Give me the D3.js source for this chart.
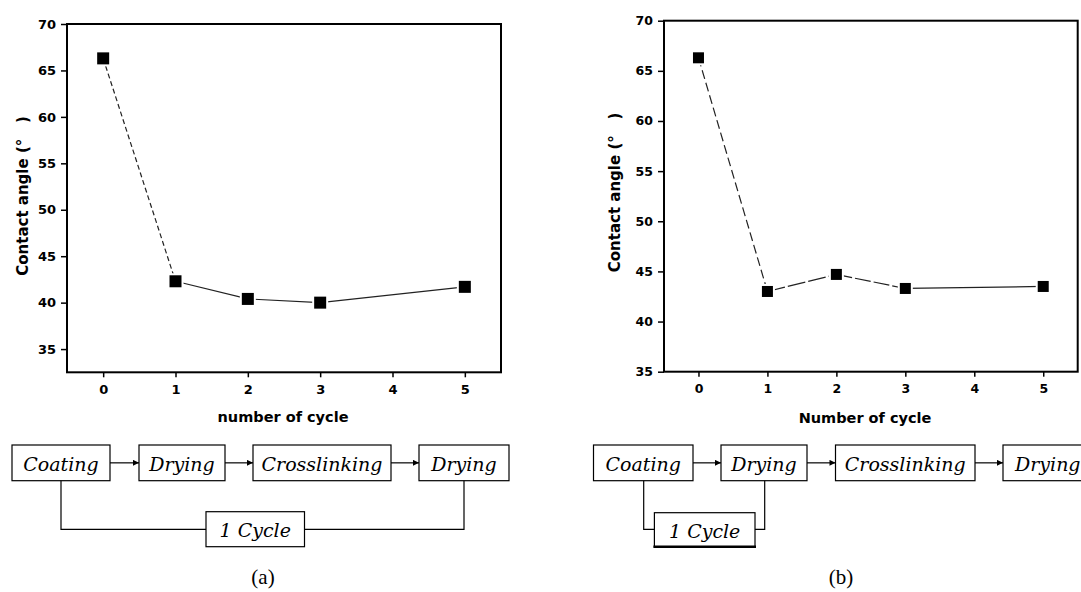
<!DOCTYPE html>
<html>
<head>
<meta charset="utf-8">
<script src="https://cdn.jsdelivr.net/npm/d3@7"></script>
<style>
  html, body { margin: 0; padding: 0; background: #fff; }
  svg { display: block; }
</style>
</head>
<body>
<svg id="chart"></svg>
<script>
// data
var cycles = [0, 1, 2, 3, 5];
var angleA = [66.3, 42.3, 40.4, 40.0, 41.7];
var angleB = [66.3, 43.0, 44.7, 43.3, 43.5];
var xTickValues = [0, 1, 2, 3, 4, 5];
var yTickValues = [35, 40, 45, 50, 55, 60, 65, 70];
var steps = ["Coating", "Drying", "Crosslinking", "Drying"];
var cycleLabel = "1 Cycle";
var yLabel = "Contact angle (\u00b0\u00a0\u00a0\u00a0)";

var W = 1081, H = 592;
var svg = d3.select("#chart").attr("width", W).attr("height", H);
svg.append("rect").attr("width", W).attr("height", H).attr("fill", "#fff");

var panels = [
  { values: angleA, left: 67, right: 501, top: 24, bottom: 372.3, yMin: 32.5,
    tickFont: 13, xLabel: "number of cycle", xLabelPos: [283, 421.5], yLabelPos: [23, 196],
    marker: 12, dashes: ["5,3", null, null, null] },
  { values: angleB, left: 664, right: 1077.7, top: 20.7, bottom: 371.7, yMin: 35,
    tickFont: 12.5, xLabel: "Number of cycle", xLabelPos: [865, 423], yLabelPos: [615, 192.5],
    marker: 11, dashes: ["9,4", "18,3", "16,3", null] }
];

panels.forEach(function(p) {
  var x = d3.scaleLinear([-0.5, 5.5], [p.left, p.right]);
  var y = d3.scaleLinear([p.yMin, 70], [p.bottom, p.top]);
  var g = svg.append("g");

  // y axis
  g.append("g")
      .attr("transform", "translate(" + p.left + ",0)")
      .call(d3.axisLeft(y).tickValues(yTickValues).tickSize(6).tickPadding(5).tickSizeOuter(0))
      .call(function(a) { a.select(".domain").remove(); })
      .call(function(a) { a.selectAll(".tick line").attr("stroke-width", 1.5); })
      .call(function(a) { a.selectAll("text")
          .attr("font-family", "DejaVu Sans").attr("font-weight", "bold").attr("font-size", p.tickFont); });

  // x axis
  g.append("g")
      .attr("transform", "translate(0," + p.bottom + ")")
      .call(d3.axisBottom(x).tickValues(xTickValues).tickFormat(d3.format("d"))
          .tickSize(5).tickPadding(7).tickSizeOuter(0))
      .call(function(a) { a.select(".domain").remove(); })
      .call(function(a) { a.selectAll(".tick line").attr("stroke-width", 1.5); })
      .call(function(a) { a.selectAll("text")
          .attr("font-family", "DejaVu Sans").attr("font-weight", "bold").attr("font-size", p.tickFont); });

  // frame
  g.append("rect")
      .attr("x", p.left).attr("y", p.top)
      .attr("width", p.right - p.left).attr("height", p.bottom - p.top)
      .attr("fill", "none").attr("stroke", "#000").attr("stroke-width", 2);

  // line segments, some dashed
  var line = d3.line().x(function(d) { return x(d[0]); }).y(function(d) { return y(d[1]); });
  for (var i = 0; i < cycles.length - 1; i++) {
    g.append("path")
        .attr("d", line([[cycles[i], p.values[i]], [cycles[i + 1], p.values[i + 1]]]))
        .attr("fill", "none").attr("stroke", "#222").attr("stroke-width", 1.2)
        .attr("stroke-dasharray", p.dashes[i]);
  }

  // square markers with a white halo
  var pts = cycles.map(function(c, i) { return [c, p.values[i]]; });
  g.selectAll(".halo").data(pts).join("rect")
      .attr("x", function(d) { return x(d[0]) - p.marker / 2 - 2; })
      .attr("y", function(d) { return y(d[1]) - p.marker / 2 - 2; })
      .attr("width", p.marker + 4).attr("height", p.marker + 4).attr("fill", "#fff");
  g.selectAll(".pt").data(pts).join("rect")
      .attr("x", function(d) { return x(d[0]) - p.marker / 2; })
      .attr("y", function(d) { return y(d[1]) - p.marker / 2; })
      .attr("width", p.marker).attr("height", p.marker).attr("fill", "#000");

  // axis titles
  g.append("text")
      .attr("x", p.xLabelPos[0]).attr("y", p.xLabelPos[1])
      .attr("text-anchor", "middle")
      .attr("font-family", "DejaVu Sans").attr("font-weight", "bold").attr("font-size", 14.5)
      .text(p.xLabel);
  g.append("text")
      .attr("transform", "translate(" + p.yLabelPos[0] + "," + p.yLabelPos[1] + ") rotate(-90)")
      .attr("text-anchor", "middle").attr("dominant-baseline", "central")
      .attr("font-family", "DejaVu Sans").attr("font-weight", "bold").attr("font-size", 15)
      .text(yLabel);
});

// ---- process diagrams under the charts ----
svg.append("defs").append("marker")
    .attr("id", "arrow").attr("viewBox", "0 0 10 10")
    .attr("refX", 10).attr("refY", 5)
    .attr("markerWidth", 7).attr("markerHeight", 6)
    .attr("markerUnits", "userSpaceOnUse").attr("orient", "auto")
  .append("path").attr("d", "M0,0L10,5L0,10Z").attr("fill", "#000");

var flows = [
  { boxes: [[12, 110], [139, 225], [253, 391], [419, 509]],
    cycleBox: [206, 304.5, 511.7, 546.7], linkX: [61, 464], linkY: 529.3,
    caption: "(a)", captionX: 263, thickBottom: false },
  { boxes: [[593.5, 693], [721, 807], [835.5, 975], [1003, 1100]],
    cycleBox: [654.4, 755, 512.7, 546.7], linkX: [643.7, 764.7], linkY: 529.3,
    caption: "(b)", captionX: 841, thickBottom: true }
];
var boxTop = 445, boxBottom = 480.7;

flows.forEach(function(f) {
  var g = svg.append("g");
  var midY = (boxTop + boxBottom) / 2;

  f.boxes.forEach(function(b, i) {
    var clipped = b[1] > W;
    g.append("rect")
        .attr("x", b[0]).attr("y", boxTop)
        .attr("width", b[1] - b[0]).attr("height", boxBottom - boxTop)
        .attr("fill", "#fff").attr("stroke", "#000").attr("stroke-width", 1.2);
    g.append("text")
        .attr("x", clipped ? b[0] + 12 : (b[0] + b[1]) / 2)
        .attr("y", boxTop + 25.5)
        .attr("text-anchor", clipped ? "start" : "middle")
        .attr("font-family", "DejaVu Serif").attr("font-style", "italic").attr("font-size", 19)
        .text(steps[i]);
    if (i < f.boxes.length - 1) {
      g.append("line")
          .attr("x1", b[1]).attr("x2", f.boxes[i + 1][0])
          .attr("y1", midY).attr("y2", midY)
          .attr("stroke", "#000").attr("stroke-width", 1.2)
          .attr("marker-end", "url(#arrow)");
    }
  });

  // bracket from first step to the end of the cycle
  var cb = f.cycleBox;
  g.append("path")
      .attr("d", "M" + f.linkX[0] + "," + boxBottom + "V" + f.linkY + "H" + cb[0])
      .attr("fill", "none").attr("stroke", "#000").attr("stroke-width", 1.2);
  g.append("path")
      .attr("d", "M" + cb[1] + "," + f.linkY + "H" + f.linkX[1] + "V" + boxBottom)
      .attr("fill", "none").attr("stroke", "#000").attr("stroke-width", 1.2);
  g.append("rect")
      .attr("x", cb[0]).attr("y", cb[2])
      .attr("width", cb[1] - cb[0]).attr("height", cb[3] - cb[2])
      .attr("fill", "#fff").attr("stroke", "#000").attr("stroke-width", 1.2);
  if (f.thickBottom) {
    g.append("line")
        .attr("x1", cb[0] - 1).attr("x2", cb[1] + 1).attr("y1", cb[3]).attr("y2", cb[3])
        .attr("stroke", "#000").attr("stroke-width", 2.5);
  }
  g.append("text")
      .attr("x", (cb[0] + cb[1]) / 2).attr("y", cb[2] + 25)
      .attr("text-anchor", "middle")
      .attr("font-family", "DejaVu Serif").attr("font-style", "italic").attr("font-size", 19)
      .text(cycleLabel);

  g.append("text")
      .attr("x", f.captionX).attr("y", 584)
      .attr("text-anchor", "middle")
      .attr("font-family", "Liberation Serif").attr("font-size", 21)
      .text(f.caption);
});
</script>
</body>
</html>
